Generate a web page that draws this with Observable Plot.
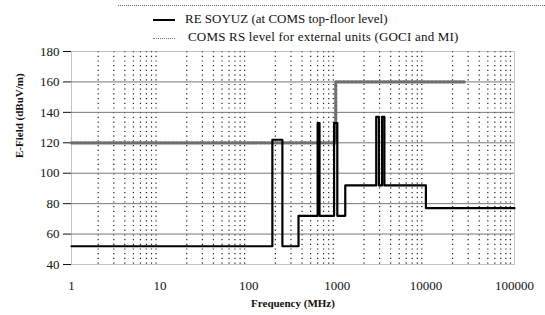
<!DOCTYPE html>
<html>
<head>
<meta charset="utf-8">
<script src="https://cdn.jsdelivr.net/npm/d3@7"></script>
<script src="https://cdn.jsdelivr.net/npm/@observablehq/plot@0.6"></script>
<style>
  html, body { margin: 0; padding: 0; background: #fff; }
  #wrap { width: 545px; height: 315px; position: relative; overflow: hidden; font-family: "Liberation Serif", "Times New Roman", serif; }
  #legend { position: relative; height: 42px; }
  #legend .topline { position: absolute; left: 118px; right: 0; top: 5px; border-top: 1px dotted #666; }
  #legend .row { position: absolute; left: 153px; font-size: 13px; color: #111; white-space: nowrap; }
  #legend .sw { display: inline-block; width: 22px; vertical-align: middle; margin-right: 10px; }
</style>
</head>
<body>
<div id="wrap">
  <div id="legend">
    <div class="topline"></div>
    <div class="row" style="top:11px"><span class="sw" style="border-top:2.5px solid #000"></span>RE SOYUZ (at COMS top-floor level)</div>
    <div class="row" style="top:29px;letter-spacing:0.2px"><span class="sw" style="border-top:1.5px dotted #777;margin-right:13px"></span>COMS RS level for external units (GOCI and MI)</div>
  </div>
  <div id="chart"></div>
</div>
<script>
// Data (frequency breakpoints in MHz, E-field in dBuV/m; step-after)
const soyuzFreq  = [1, 185, 240, 365, 600, 630, 920, 1000, 1230, 2750, 2950, 3200, 3400, 10000, 100000];
const soyuzLevel = [52, 122, 52, 72, 133, 72, 133, 72, 92, 137, 92, 137, 92, 77, 77];
const comsFreq   = [1, 960, 27000];
const comsLevel  = [120, 160, 160];
const xTicks = [1, 10, 100, 1000, 10000, 100000];
const yTicks = [40, 60, 80, 100, 120, 140, 160, 180];
const yGrid  = [60, 80, 100, 120, 140, 160];
const decades = [1, 10, 100, 1000, 10000];
const minorMult = [2, 3, 4, 5, 6, 7, 8, 9];
const xLabel = "Frequency (MHz)";
const yLabel = "E-Field (dBuV/m)";

const minorGrid = decades.flatMap(d => minorMult.map(m => d * m));
const soyuz = soyuzFreq.map((f, i) => ({f, v: soyuzLevel[i]}));
const coms = comsFreq.map((f, i) => ({f, v: comsLevel[i]}));

const serif = "'Liberation Serif', 'Times New Roman', serif";
const chart = Plot.plot({
  width: 545,
  height: 273,
  marginLeft: 71,
  marginRight: 31,
  marginTop: 9,
  marginBottom: 51,
  style: {fontFamily: serif, fontSize: "13px", color: "#111", background: "#fff"},
  x: {type: "log", domain: [1, 100000], ticks: xTicks, tickFormat: d3.format("d"), tickSize: 0, tickPadding: 16, label: null},
  y: {domain: [40, 180], ticks: yTicks, tickSize: 8, tickPadding: 4, label: null},
  marks: [
    Plot.ruleX(minorGrid, {stroke: "#222", strokeWidth: 1.2, strokeDasharray: "1.2,3.5"}),
    Plot.ruleY(yGrid, {stroke: "#777", strokeWidth: 1}),
    Plot.frame({stroke: "#888", strokeDasharray: "1,1"}),
    Plot.line(coms, {x: "f", y: "v", curve: "step-after", stroke: "#6f6f6f", strokeWidth: 3.2, strokeDasharray: "2.2,1.8"}),
    Plot.line(soyuz, {x: "f", y: "v", curve: "step-after", stroke: "#000", strokeWidth: 2.2}),
    Plot.text([xLabel], {frameAnchor: "bottom", dy: 42, fontWeight: "bold", fontSize: 11, fontFamily: serif}),
    Plot.text([yLabel], {frameAnchor: "left", dx: -52, rotate: -90, fontWeight: "bold", fontSize: 11, fontFamily: serif})
  ]
});
document.getElementById("chart").appendChild(chart);
</script>
</body>
</html>
